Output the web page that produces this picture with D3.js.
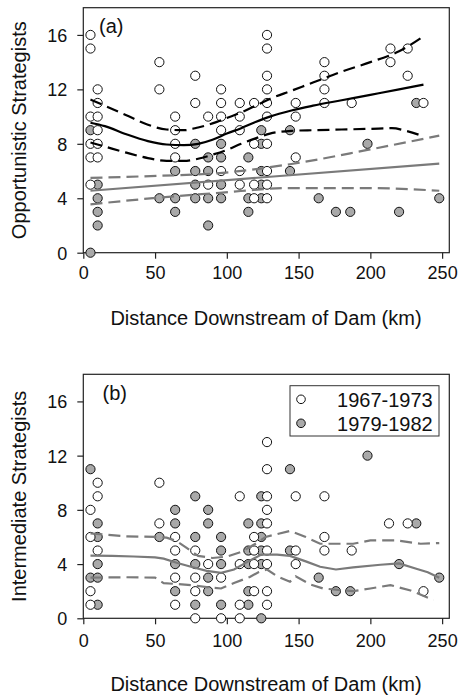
<!DOCTYPE html>
<html><head><meta charset="utf-8">
<script src="https://cdn.jsdelivr.net/npm/d3@7"></script>
<style>
body{margin:0;background:#fff}
svg text{font-family:Arial,"Liberation Sans",sans-serif;fill:#111}
</style>
</head><body><svg id="c" width="461" height="696"></svg>
<script>
// ---------- tick labels / categories ----------
const xTicks = [0, 50, 100, 150, 200, 250];
const yTicks = [0, 4, 8, 12, 16];
const legendLabels = ["1967-1973", "1979-1982"];
const xTitle = "Distance Downstream of Dam (km)";

// ---------- panel (a): Opportunistic strategists ----------
const oppEarly = [[5,16],[5,15],[5,10],[5,8],[5,7],[5,5],
  [10,12],[10,11],[10,10],[10,9],[10,8],[10,7],
  [53,14],[53,12],[64,10],[64,9],[64,8],[64,7],[78,13],[78,11],[87,10],[87,5],
  [96,12],[96,11],[96,10],[96,9],[96,6],[109,11],[109,10],[109,9],[109,6],[109,5],
  [119,11],[119,8],[119,5],[119,4],
  [128,16],[128,15],[128,13],[128,12],[128,11],[128,10],[128,8],[128,6],[128,5],[128,4],
  [148,11],[148,10],[148,7],[168,14],[168,13],[168,12],[168,11],[187,11],
  [214,15],[214,14],[226,15],[226,13],[237,11]];
const oppLate = [[5,9],[5,0],[10,5],[10,4],[10,3],[10,2],[53,4],[64,6],[64,4],[64,3],
  [78,8],[78,6],[78,5],[78,4],[87,7],[87,6],[87,4],[87,2],[96,8],[96,7],[96,5],[96,4],
  [115,7],[115,4],[115,3],[124,9],[124,8],[124,6],[124,5],[124,4],[144,9],[144,6],
  [164,4],[176,3],[186,3],[198,8],[220,3],[232,11],[248,4]];
const oppEarlyFit = [[5,9.55],[15,9.3],[30,8.7],[45,8.2],[58,7.95],[70,7.9],[80,8.0],[90,8.3],
  [100,8.75],[110,9.15],[120,9.6],[130,10.0],[145,10.45],[160,10.8],[180,11.2],[200,11.6],[220,12.0],[237,12.35]];
const oppEarlyUpper = [[5,11.25],[15,10.8],[30,10.1],[45,9.4],[58,9.05],[70,9.0],[80,9.2],[90,9.5],
  [100,9.9],[110,10.3],[120,10.8],[130,11.3],[145,11.9],[160,12.5],[180,13.3],[200,14.0],[220,14.8],[237,15.9]];
const oppEarlyLower = [[5,8.1],[15,7.8],[30,7.35],[45,6.95],[58,6.75],[70,6.75],[80,6.9],[90,7.2],
  [100,7.55],[110,8.0],[120,8.4],[130,8.75],[145,8.95],[160,9.0],[180,9.05],[200,9.1],[215,9.15],[225,8.95],[237,8.55]];
const oppLateFit = [[5,4.55],[248,6.55]];
const oppLateUpper = [[5,5.5],[53,5.65],[95,5.85],[144,6.5],[198,7.55],[248,8.6]];
const oppLateLower = [[5,3.55],[53,4.05],[95,4.4],[144,4.75],[198,4.75],[248,4.55]];

// ---------- panel (b): Intermediate strategists ----------
const intEarly = [[5,8],[5,6],[5,2],[5,1],[10,10],[10,9],[10,5],[53,10],[53,7],
  [64,6],[64,5],[64,3],[64,1],[78,5],[78,3],[78,2],[78,0],[87,4],[96,3],[96,0],
  [109,9],[109,4],[109,1],[109,0],[119,6],[119,5],[119,4],[119,2],
  [128,13],[128,11],[128,9],[128,8],[128,7],[128,5],[128,4],[128,2],[128,1],
  [148,9],[148,5],[148,4],[168,9],[168,6],[168,5],[187,5],[213,7],[226,7],[237,2]];
const intLate = [[5,11],[5,3],[10,7],[10,6],[10,4],[10,3],[10,1],[53,6],
  [64,8],[64,7],[64,4],[64,2],[78,9],[78,6],[78,4],[78,1],[87,8],[87,7],[87,3],[87,2],
  [96,6],[96,5],[96,4],[96,1],[115,7],[115,5],[115,4],[115,2],[115,1],
  [124,9],[124,7],[124,6],[124,5],[124,4],[124,0],[144,11],[144,5],
  [164,3],[176,2],[186,2],[198,12],[220,4],[232,7],[248,3]];
const intLateFit = [[5,4.63],[20,4.6],[35,4.56],[50,4.5],[56,4.4],[65,4.1],[75,3.8],[86,3.5],[96,3.35],
  [105,3.6],[115,4.2],[124,4.7],[135,4.7],[144,4.6],[155,4.2],[165,3.8],[176,3.6],[188,3.75],
  [207,3.95],[220,4.05],[232,3.65],[240,3.4],[248,3.0]];
const intLateUpper = [[5,6.27],[30,6.05],[50,6.0],[58,5.95],[65,5.7],[72,5.2],[80,4.6],[90,4.45],
  [100,4.55],[110,4.9],[120,5.5],[127,6.0],[144,6.45],[155,6.0],[165,5.5],[188,5.5],[200,5.75],
  [218,5.75],[235,5.5],[248,5.55]];
const intLateLower = [[5,3.0],[30,3.03],[50,3.0],[56,2.6],[77,2.43],[90,2.25],[96,2.2],[105,2.6],
  [116,3.05],[122,3.4],[128,3.6],[135,3.1],[144,2.7],[148,3.1],[158,2.5],[167,2.2],[188,2.0],
  [200,2.2],[214,2.45],[228,2.05],[244,1.35]];

// ---------- drawing ----------
const svg = d3.select("#c");
const GREY_FILL = "#a9a9a9", GREY_LINE = "#7a7a7a";
const x = d3.scaleLinear().domain([0, 255]).range([83.3, 449.3]);

function panel(o) {
  const y = d3.scaleLinear().domain([0, 18]).range([o.bottom, o.top]);
  const g = svg.append("g");
  // frame
  g.append("rect").attr("x", x(0)).attr("y", y(18)).attr("width", x(255) - x(0))
    .attr("height", y(0) - y(18)).attr("fill", "none").attr("stroke", "#222").attr("stroke-width", 1.2);
  // axes
  const ax = g.append("g").attr("transform", `translate(0,${y(0)})`)
    .call(d3.axisBottom(x).tickValues(xTicks).tickSize(6).tickSizeOuter(0));
  ax.select(".domain").remove();
  ax.selectAll("line").attr("stroke", "#222").attr("stroke-width", 1.2);
  ax.selectAll("text").attr("y", o.xLabOff).attr("dy", 0).style("font-size", "18px")
    .style("font-family", "Arial, 'Liberation Sans', sans-serif").attr("fill", "#111");
  const ay = g.append("g").attr("transform", `translate(${x(0)},0)`)
    .call(d3.axisLeft(y).tickValues(yTicks).tickSize(6).tickSizeOuter(0).tickPadding(10));
  ay.select(".domain").remove();
  ay.selectAll("line").attr("stroke", "#222").attr("stroke-width", 1.2);
  ay.selectAll("text").style("font-size", "18px")
    .style("font-family", "Arial, 'Liberation Sans', sans-serif").attr("fill", "#111").attr("dy", "0.36em");
  // titles
  g.append("text").attr("x", 266).attr("y", y(0) + 72.3).attr("text-anchor", "middle")
    .style("font-size", "20px").text(xTitle);
  g.append("text").attr("transform", `translate(26,${(y(0) + y(18)) / 2}) rotate(-90)`)
    .attr("text-anchor", "middle").style("font-size", "20px").text(o.yTitle);
  g.append("text").attr("x", o.labX).attr("y", o.labY).style("font-size", "20px").text(o.label);
  // points: late (grey) first, then early (open)
  g.append("g").selectAll("circle").data(o.late).join("circle")
    .attr("cx", d => x(d[0])).attr("cy", d => y(d[1])).attr("r", 4.6)
    .attr("fill", GREY_FILL).attr("stroke", "#111").attr("stroke-width", 1);
  g.append("g").selectAll("circle").data(o.early).join("circle")
    .attr("cx", d => x(d[0])).attr("cy", d => y(d[1])).attr("r", 4.6)
    .attr("fill", "#fff").attr("stroke", "#111").attr("stroke-width", 1);
  // lines
  const line = d3.line().x(d => x(d[0])).y(d => y(d[1]));
  (o.lines || []).forEach(l => {
    g.append("path").attr("d", line.curve(l.curve || d3.curveMonotoneX)(l.data))
      .attr("fill", "none").attr("stroke", l.color).attr("stroke-width", l.w || 2.2)
      .attr("stroke-dasharray", l.dash ? "12,6" : null);
  });
  return {g, y};
}

panel({top: 7.7, bottom: 252.7, xLabOff: 26.3, yTitle: "Opportunistic Strategists",
  label: "(a)", labX: 99, labY: 32.5, early: oppEarly, late: oppLate,
  lines: [
    {data: oppLateFit, color: GREY_LINE},
    {data: oppLateUpper, color: GREY_LINE, dash: true},
    {data: oppLateLower, color: GREY_LINE, dash: true},
    {data: oppEarlyFit, color: "#000"},
    {data: oppEarlyUpper, color: "#000", dash: true},
    {data: oppEarlyLower, color: "#000", dash: true}
  ]});

const pb = panel({top: 374.3, bottom: 618.3, xLabOff: 29, yTitle: "Intermediate Strategists",
  label: "(b)", labX: 102.5, labY: 400, early: intEarly, late: intLate,
  lines: [
    {data: intLateFit, color: GREY_LINE, curve: d3.curveLinear},
    {data: intLateUpper, color: GREY_LINE, dash: true, curve: d3.curveLinear},
    {data: intLateLower, color: GREY_LINE, dash: true, curve: d3.curveLinear}
  ]});

// legend
const lg = pb.g.append("g");
lg.append("rect").attr("x", 290).attr("y", 385.7).attr("width", 149).attr("height", 50.3)
  .attr("fill", "#fff").attr("stroke", "#333").attr("stroke-width", 1);
const legFills = ["#fff", GREY_FILL];
legendLabels.forEach((t, i) => {
  lg.append("circle").attr("cx", 301).attr("cy", 399.3 + i * 24).attr("r", 4.3)
    .attr("fill", legFills[i]).attr("stroke", "#111").attr("stroke-width", 1);
  lg.append("text").attr("x", 432.7).attr("y", 406.7 + i * 24.3).attr("text-anchor", "end")
    .style("font-size", "20px").text(t);
});
</script></body></html>
